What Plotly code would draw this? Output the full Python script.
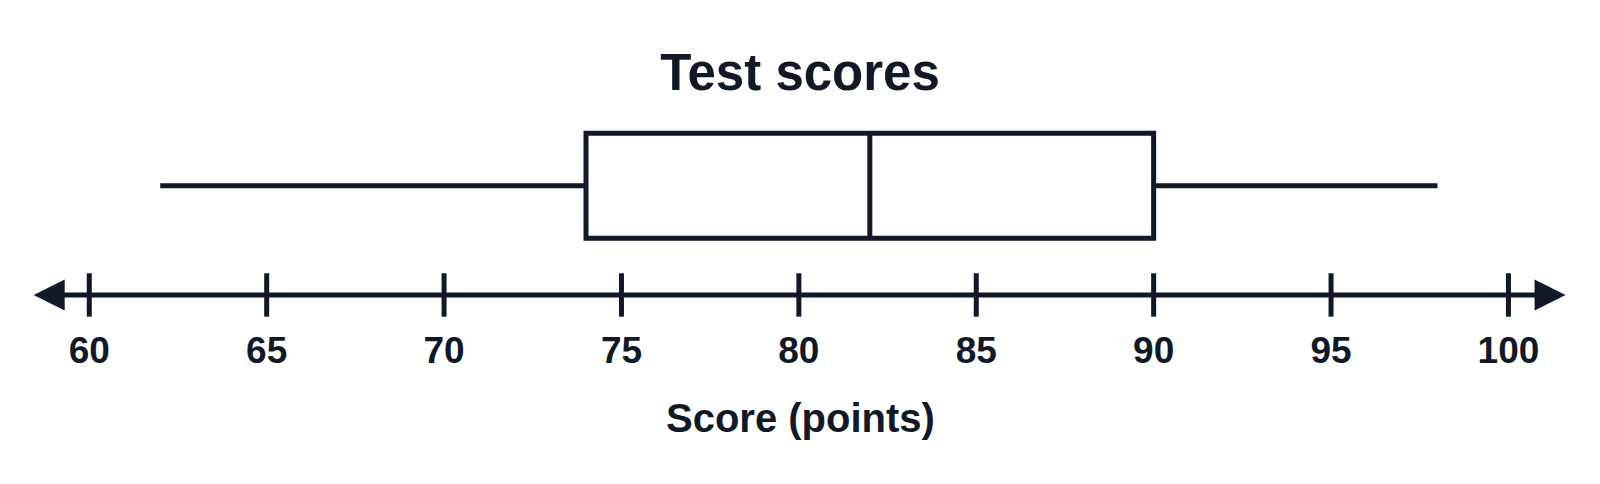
import plotly.graph_objects as go

# box plot summary (points)
lower_whisker = [62]
q1 = [74]
median = [82]
q3 = [90]
upper_whisker = [98]

# number line
tick_values = [60, 65, 70, 75, 80, 85, 90, 95, 100]
tick_labels = ["60", "65", "70", "75", "80", "85", "90", "95", "100"]
axis_ends = [58.39, 101.61]

title_text = "Test scores"
axis_title = "Score (points)"

INK = "#111827"
FONT = "Liberation Sans, Arial, sans-serif"

BOX_Y = 1.01
LINE_Y = 0
LABEL_Y = -0.54

fig = go.Figure()

# the box itself
fig.add_trace(go.Box(
    orientation="h",
    y=[BOX_Y],
    lowerfence=lower_whisker,
    q1=q1,
    median=median,
    q3=q3,
    upperfence=upper_whisker,
    width=0.97,
    whiskerwidth=0,
    line=dict(color=INK, width=5),
    fillcolor="white",
    hoverinfo="skip",
    showlegend=False,
))

# tick marks crossing the number line (line-ns is drawn 1.4x marker size)
fig.add_trace(go.Scatter(
    x=tick_values,
    y=[LINE_Y] * len(tick_values),
    mode="markers",
    marker=dict(symbol="line-ns", size=31, line=dict(color=INK, width=5)),
    hoverinfo="skip",
    showlegend=False,
))

# tick labels
fig.add_trace(go.Scatter(
    x=tick_values,
    y=[LABEL_Y] * len(tick_values),
    mode="text",
    text=tick_labels,
    textposition="middle center",
    textfont=dict(family=FONT, size=37, color=INK, weight="bold"),
    hoverinfo="skip",
    showlegend=False,
))

# number line with arrows at both ends
fig.add_annotation(
    x=axis_ends[1], y=LINE_Y,
    ax=axis_ends[0], ay=LINE_Y,
    xref="x", yref="y", axref="x", ayref="y",
    text="",
    showarrow=True,
    arrowside="end+start",
    arrowhead=2, startarrowhead=2,
    arrowsize=1.24, startarrowsize=1.24,
    arrowwidth=5,
    arrowcolor=INK,
)

# axis title
fig.add_annotation(
    x=0.495, y=1 - 410 / 484,
    xref="paper", yref="paper",
    text=axis_title,
    showarrow=False,
    xanchor="center", yanchor="middle",
    font=dict(family=FONT, size=40, color=INK, weight="bold"),
)

fig.update_layout(
    width=1600,
    height=484,
    margin=dict(l=0, r=0, t=0, b=0),
    paper_bgcolor="white",
    plot_bgcolor="white",
    title=dict(
        text=title_text,
        x=0.495, xanchor="center",
        y=1 - 64 / 484, yanchor="middle",
        font=dict(family=FONT, size=51, color=INK, weight="bold"),
    ),
    xaxis=dict(range=[57.709, 102.806], visible=False, fixedrange=True),
    yaxis=dict(range=[-1.821, 2.652], visible=False, fixedrange=True),
    showlegend=False,
)

fig.write_html("out.html")
